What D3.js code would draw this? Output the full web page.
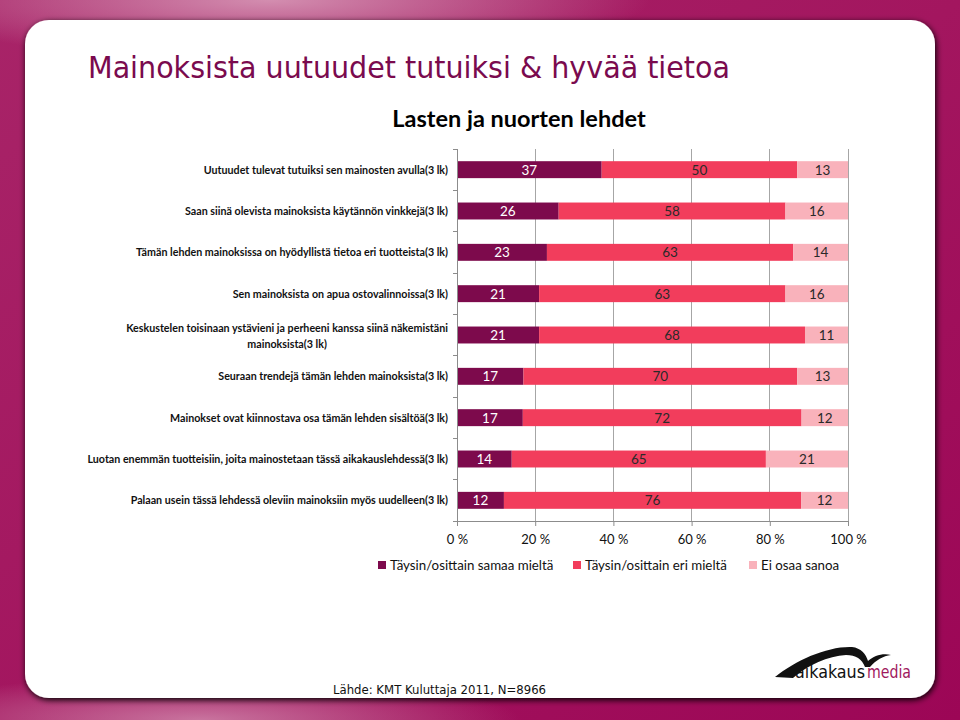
<!DOCTYPE html>
<html><head><meta charset="utf-8">
<script src="https://cdn.jsdelivr.net/npm/d3@7"></script>
<style>body{margin:0;padding:0;background:#fff}svg{display:block}</style>
</head><body>
<svg id="c" width="960" height="720"></svg>
<script>
const categories = [
  "Uutuudet tulevat tutuiksi sen mainosten avulla(3 lk)",
  "Saan siinä olevista mainoksista käytännön vinkkejä(3 lk)",
  "Tämän lehden mainoksissa on hyödyllistä tietoa eri tuotteista(3 lk)",
  "Sen mainoksista on apua ostovalinnoissa(3 lk)",
  "Keskustelen toisinaan ystävieni ja perheeni kanssa siinä näkemistäni|mainoksista(3 lk)",
  "Seuraan trendejä tämän lehden mainoksista(3 lk)",
  "Mainokset ovat kiinnostava osa tämän lehden sisältöä(3 lk)",
  "Luotan enemmän tuotteisiin, joita mainostetaan tässä aikakauslehdessä(3 lk)",
  "Palaan usein tässä lehdessä oleviin mainoksiin myös uudelleen(3 lk)"
];
const seriesNames = ["Täysin/osittain samaa mieltä", "Täysin/osittain eri mieltä", "Ei osaa sanoa"];
const agree    = [37, 26, 23, 21, 21, 17, 17, 14, 12];
const disagree = [50, 58, 63, 63, 68, 70, 72, 65, 76];
const dontKnow = [13, 16, 14, 16, 11, 13, 12, 21, 12];
const xTicks = [0, 20, 40, 60, 80, 100];
const colors = ["#7d0a4c", "#f23d5c", "#f9b2bb"];
const textColors = ["#ffffff", "#2a2a2a", "#2a2a2a"];

const svg = d3.select("#c");
const defs = svg.append("defs");

// background gradient frame
const lg = defs.append("linearGradient").attr("id","bg").attr("x1","0").attr("y1","0").attr("x2","1").attr("y2","1");
lg.append("stop").attr("offset","0").attr("stop-color","#a82468");
lg.append("stop").attr("offset","0.5").attr("stop-color","#a3165f");
lg.append("stop").attr("offset","1").attr("stop-color","#9c0656");
const rg1 = defs.append("radialGradient").attr("id","hl1").attr("cx","0.5").attr("cy","0.5").attr("r","0.5");
rg1.append("stop").attr("offset","0").attr("stop-color","#d89ab8").attr("stop-opacity","0.9");
rg1.append("stop").attr("offset","1").attr("stop-color","#d89ab8").attr("stop-opacity","0");
svg.append("rect").attr("width",960).attr("height",720).attr("fill","url(#bg)");
svg.append("ellipse").attr("cx",270).attr("cy",0).attr("rx",380).attr("ry",60).attr("fill","url(#hl1)");
svg.append("ellipse").attr("cx",200).attr("cy",720).attr("rx",320).attr("ry",45).attr("fill","url(#hl1)").attr("opacity",0.8);

// shadow + white panel
const filt = defs.append("filter").attr("id","sh").attr("x","-5%").attr("y","-5%").attr("width","110%").attr("height","110%");
filt.append("feGaussianBlur").attr("in","SourceAlpha").attr("stdDeviation",3);
filt.append("feOffset").attr("dx",1).attr("dy",2).attr("result","b");
const fm = filt.append("feMerge");
fm.append("feMergeNode").attr("in","b");
fm.append("feMergeNode").attr("in","SourceGraphic");
svg.append("rect").attr("x",25).attr("y",20).attr("width",910).attr("height",678).attr("rx",24).attr("ry",24)
  .attr("fill","#ffffff").attr("filter","url(#sh)");

// title
svg.append("text").attr("x",88).attr("y",78).text("Mainoksista uutuudet tutuiksi & hyvää tietoa")
  .attr("font-family","'DejaVu Sans Condensed','DejaVu Sans',sans-serif").attr("font-size",31)
  .attr("fill","#7a0a4e").attr("textLength",642).attr("lengthAdjust","spacingAndGlyphs");

// subtitle
svg.append("text").attr("x",519).attr("y",127).attr("text-anchor","middle").text("Lasten ja nuorten lehdet")
  .attr("font-family","Lato,'Open Sans',sans-serif").attr("font-weight","bold").attr("font-size",23.5).attr("fill","#000");

// scales
const x0 = 457, x1 = 848, yTop = 149, yBot = 521;
const x = d3.scaleLinear().domain([0,100]).range([x0,x1]);
const y = d3.scaleBand().domain(d3.range(categories.length)).range([yTop,yBot]).paddingInner(0.59).paddingOuter(0.295);

// gridlines
svg.append("g").selectAll("line").data(xTicks.filter(t=>t>0)).join("line")
  .attr("x1",d=>x(d)).attr("x2",d=>x(d)).attr("y1",yTop).attr("y2",yBot)
  .attr("stroke","#a6a6a6").attr("stroke-width",1).attr("shape-rendering","crispEdges");

// stacked data (100% normalized)
const rows = categories.map((c,i)=>({i, vals:[agree[i],disagree[i],dontKnow[i]]}));
const g = svg.append("g");
rows.forEach(r=>{
  const total = d3.sum(r.vals);
  let acc = 0;
  r.vals.forEach((v,k)=>{
    const a = acc/total*100, b = (acc+v)/total*100;
    acc += v;
    g.append("rect").attr("x",x(a)).attr("y",y(r.i)).attr("width",x(b)-x(a)).attr("height",y.bandwidth()).attr("fill",colors[k]);
    g.append("text").attr("x",(x(a)+x(b))/2).attr("y",y(r.i)+y.bandwidth()/2+5).attr("text-anchor","middle")
      .attr("font-family","Lato,'Open Sans',sans-serif").attr("font-size",13.5).attr("fill",textColors[k]).text(v);
  });
});

// y axis
const yAx = svg.append("g");
yAx.append("line").attr("x1",x0).attr("x2",x0).attr("y1",yTop).attr("y2",yBot).attr("stroke","#8c8c8c").attr("shape-rendering","crispEdges");
const bounds = d3.range(categories.length+1).map(i=>yTop + i*y.step());
yAx.selectAll("line.t").data(bounds).join("line").attr("class","t")
  .attr("x1",x0-4).attr("x2",x0).attr("y1",d=>d).attr("y2",d=>d).attr("stroke","#8c8c8c").attr("shape-rendering","crispEdges");

// category labels
categories.forEach((c,i)=>{
  const lines = c.split("|");
  const cy = y(i)+y.bandwidth()/2;
  const t = svg.append("text").attr("font-family","Lato,'Open Sans',sans-serif").attr("font-weight","bold")
    .attr("font-size",10.7).attr("fill","#111");
  if (lines.length===1){
    t.attr("x",448).attr("y",cy+4).attr("text-anchor","end").text(lines[0]);
  } else {
    t.attr("text-anchor","middle");
    const tmp = t.append("tspan").text(lines[0]);
    const w = tmp.node().getComputedTextLength();
    const cx = 448 - w/2;
    tmp.attr("x",cx).attr("y",cy-3);
    t.append("tspan").attr("x",cx).attr("y",cy+13).text(lines[1]);
  }
});

// x axis
const xAx = svg.append("g").attr("transform",`translate(0,${yBot})`)
  .call(d3.axisBottom(x).tickValues(xTicks).tickSize(5).tickSizeOuter(0).tickFormat(d=>d+" %"));
xAx.select(".domain").attr("stroke","#8c8c8c");
xAx.selectAll(".tick line").attr("stroke","#8c8c8c");
xAx.selectAll(".tick text").attr("font-family","Lato,'Open Sans',sans-serif").attr("font-size",13).attr("fill","#111").attr("dy","0.9em").attr("y",11);

// legend
const legX = [378, 573, 749];
seriesNames.forEach((s,k)=>{
  svg.append("rect").attr("x",legX[k]).attr("y",561).attr("width",8).attr("height",8).attr("fill",colors[k]);
  svg.append("text").attr("x",legX[k]+12).attr("y",570).text(s)
    .attr("font-family","Lato,'Open Sans',sans-serif").attr("font-size",13.3).attr("fill","#111");
});

// source
svg.append("text").attr("x",333).attr("y",694).text("Lähde: KMT Kuluttaja 2011, N=8966")
  .attr("font-family","'DejaVu Sans Condensed','DejaVu Sans',sans-serif").attr("font-size",13).attr("fill","#111");

// logo
const logo = svg.append("g");
logo.append("path").attr("d","M775,677 C796,660 828,646 852,647 C861,648 866,654 868,661 C874,656 882,653 891,655 C883,656 876,660 870,667 L865,667 C862,659 856,655 846,655 C828,656 808,665 793,678 Z")
  .attr("fill","#111");
logo.append("text").attr("x",795).attr("y",678).attr("font-family","'DejaVu Sans','Open Sans',sans-serif")
  .attr("font-size",17).attr("textLength",70).attr("lengthAdjust","spacingAndGlyphs").attr("fill","#111").text("aikakaus");
logo.append("text").attr("x",867).attr("y",678).attr("font-family","'DejaVu Sans','Open Sans',sans-serif")
  .attr("font-size",17).attr("textLength",44).attr("lengthAdjust","spacingAndGlyphs").attr("fill","#a0195e").text("media");
</script>
</body></html>
